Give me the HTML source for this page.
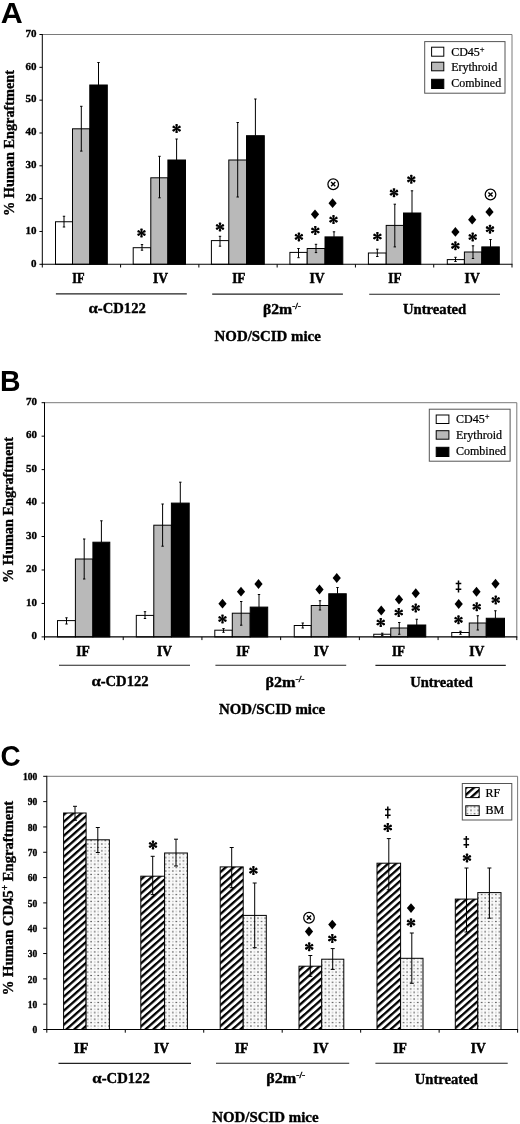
<!DOCTYPE html>
<html><head><meta charset="utf-8"><title>Figure</title>
<style>html,body{margin:0;padding:0;background:#fff;}svg{display:block;filter:blur(0.35px);}</style>
</head><body>
<svg width="520" height="1124" viewBox="0 0 520 1124">
<rect x="0" y="0" width="520" height="1124" fill="#fff"/>
<defs>
<g id="ast">
<polygon points="0.55,-0.4 1.35,-3.9 0.68,-4.5 -0.67,-4.5 -1.35,-3.9 -0.55,-0.4" fill="#000"/>
<polygon points="0.62,0.28 4.05,-0.78 4.23,-1.67 3.56,-2.83 2.7,-3.12 0.07,-0.68" fill="#000"/>
<polygon points="-0.07,-0.68 -2.7,-3.12 -3.56,-2.83 -4.23,-1.67 -4.05,-0.78 -0.62,0.28" fill="#000"/>
<polygon points="-0.55,0.4 -1.35,3.9 -0.68,4.5 0.67,4.5 1.35,3.9 0.55,0.4" fill="#000"/>
<polygon points="-0.62,-0.28 -4.05,0.78 -4.23,1.67 -3.56,2.83 -2.7,3.12 -0.07,0.68" fill="#000"/>
<polygon points="0.07,0.68 2.7,3.12 3.56,2.83 4.23,1.67 4.05,0.78 0.62,-0.28" fill="#000"/>
<circle cx="0" cy="0" r="0.9" fill="#000"/>
</g>
<polygon id="dia" points="0,-4.9 4.1,0 0,4.9 -4.1,0" fill="#000"/>
<g id="cx"><circle cx="0" cy="0" r="5.3" fill="#fff" stroke="#000" stroke-width="1.25"/><path d="M-2.1,-2.1 L2.1,2.1 M-2.1,2.1 L2.1,-2.1" stroke="#000" stroke-width="1.4" fill="none"/></g>
<g id="dd"><path d="M0,-6 L0,6" stroke="#000" stroke-width="1.5" fill="none"/><path d="M-2.8,-3 L2.8,-3 M-2.8,2.7 L2.8,2.7" stroke="#000" stroke-width="1.5" fill="none"/></g>
<pattern id="hatch" width="8" height="5.24" patternUnits="userSpaceOnUse" patternTransform="rotate(-41.5) translate(0,1.58)"><rect width="8" height="5.24" fill="#fff"/><rect y="0" width="8" height="2.3" fill="#000"/></pattern>
<pattern id="dots" width="7.1" height="6.74" patternUnits="userSpaceOnUse" patternTransform="translate(1.5,0.6)"><rect width="7.1" height="6.74" fill="#fafafa"/><circle cx="0.9" cy="1.0" r="0.78" fill="#333"/><circle cx="4.45" cy="4.37" r="0.78" fill="#333"/><circle cx="4.45" cy="1.0" r="0.7" fill="#a4a4a4"/><circle cx="0.9" cy="4.37" r="0.7" fill="#a4a4a4"/></pattern>
</defs>
<text transform="translate(0.8,22.7) scale(1.05,1)" font-family='"Liberation Sans", sans-serif' font-size="29" font-weight="bold">A</text>
<text transform="translate(-0.1,390.6) scale(0.98,1)" font-family='"Liberation Sans", sans-serif' font-size="29" font-weight="bold">B</text>
<text transform="translate(0.6,766.2) scale(0.96,1.02)" font-family='"Liberation Sans", sans-serif' font-size="29" font-weight="bold">C</text>
<polyline points="42.3,34.5 512,34.5 512,264.3" fill="none" stroke="#7a7a7a" stroke-width="1"/>
<rect x="55.5" y="221.75" width="17" height="42.55" fill="#fff" stroke="#000" stroke-width="1"/>
<rect x="72.5" y="128.8" width="17.3" height="135.5" fill="#b9b9b9" stroke="#000" stroke-width="1"/>
<rect x="89.8" y="85" width="17.5" height="179.3" fill="#000" stroke="#000" stroke-width="1"/>
<rect x="133.2" y="247.7" width="17.6" height="16.6" fill="#fff" stroke="#000" stroke-width="1"/>
<rect x="150.8" y="177.8" width="17.1" height="86.5" fill="#b9b9b9" stroke="#000" stroke-width="1"/>
<rect x="167.9" y="160" width="17.6" height="104.3" fill="#000" stroke="#000" stroke-width="1"/>
<rect x="211.4" y="240.6" width="17.4" height="23.7" fill="#fff" stroke="#000" stroke-width="1"/>
<rect x="228.8" y="160" width="17.7" height="104.3" fill="#b9b9b9" stroke="#000" stroke-width="1"/>
<rect x="246.5" y="135.7" width="17.8" height="128.6" fill="#000" stroke="#000" stroke-width="1"/>
<rect x="289.9" y="252.4" width="17.3" height="11.9" fill="#fff" stroke="#000" stroke-width="1"/>
<rect x="307.2" y="248.5" width="17.8" height="15.8" fill="#b9b9b9" stroke="#000" stroke-width="1"/>
<rect x="325" y="236.9" width="17.8" height="27.4" fill="#000" stroke="#000" stroke-width="1"/>
<rect x="368.4" y="253" width="17.8" height="11.3" fill="#fff" stroke="#000" stroke-width="1"/>
<rect x="386.2" y="225.4" width="17.3" height="38.9" fill="#b9b9b9" stroke="#000" stroke-width="1"/>
<rect x="403.5" y="213" width="17.3" height="51.3" fill="#000" stroke="#000" stroke-width="1"/>
<rect x="447.3" y="259.6" width="17.1" height="4.7" fill="#fff" stroke="#000" stroke-width="1"/>
<rect x="464.4" y="252" width="17.4" height="12.3" fill="#b9b9b9" stroke="#000" stroke-width="1"/>
<rect x="481.8" y="246.9" width="17.5" height="17.4" fill="#000" stroke="#000" stroke-width="1"/>
<line x1="64" y1="216.25" x2="64" y2="227" stroke="#000" stroke-width="1"/>
<line x1="62.8" y1="216.25" x2="65.2" y2="216.25" stroke="#000" stroke-width="1"/>
<line x1="62.8" y1="227" x2="65.2" y2="227" stroke="#000" stroke-width="1"/>
<line x1="81.3" y1="106.3" x2="81.3" y2="151.1" stroke="#000" stroke-width="1"/>
<line x1="80.1" y1="106.3" x2="82.5" y2="106.3" stroke="#000" stroke-width="1"/>
<line x1="80.1" y1="151.1" x2="82.5" y2="151.1" stroke="#000" stroke-width="1"/>
<line x1="98.5" y1="62.5" x2="98.5" y2="85" stroke="#000" stroke-width="1"/>
<line x1="97.3" y1="62.5" x2="99.7" y2="62.5" stroke="#000" stroke-width="1"/>
<line x1="142" y1="244.6" x2="142" y2="250.2" stroke="#000" stroke-width="1"/>
<line x1="140.8" y1="244.6" x2="143.2" y2="244.6" stroke="#000" stroke-width="1"/>
<line x1="140.8" y1="250.2" x2="143.2" y2="250.2" stroke="#000" stroke-width="1"/>
<line x1="159.5" y1="156.3" x2="159.5" y2="197.8" stroke="#000" stroke-width="1"/>
<line x1="158.3" y1="156.3" x2="160.7" y2="156.3" stroke="#000" stroke-width="1"/>
<line x1="158.3" y1="197.8" x2="160.7" y2="197.8" stroke="#000" stroke-width="1"/>
<line x1="176.6" y1="139" x2="176.6" y2="160" stroke="#000" stroke-width="1"/>
<line x1="175.4" y1="139" x2="177.8" y2="139" stroke="#000" stroke-width="1"/>
<line x1="220" y1="236.3" x2="220" y2="246.2" stroke="#000" stroke-width="1"/>
<line x1="218.8" y1="236.3" x2="221.2" y2="236.3" stroke="#000" stroke-width="1"/>
<line x1="218.8" y1="246.2" x2="221.2" y2="246.2" stroke="#000" stroke-width="1"/>
<line x1="237.7" y1="122.5" x2="237.7" y2="197" stroke="#000" stroke-width="1"/>
<line x1="236.5" y1="122.5" x2="238.9" y2="122.5" stroke="#000" stroke-width="1"/>
<line x1="236.5" y1="197" x2="238.9" y2="197" stroke="#000" stroke-width="1"/>
<line x1="255.4" y1="99" x2="255.4" y2="135.7" stroke="#000" stroke-width="1"/>
<line x1="254.2" y1="99" x2="256.6" y2="99" stroke="#000" stroke-width="1"/>
<line x1="298.5" y1="248.5" x2="298.5" y2="257.7" stroke="#000" stroke-width="1"/>
<line x1="297.3" y1="248.5" x2="299.7" y2="248.5" stroke="#000" stroke-width="1"/>
<line x1="297.3" y1="257.7" x2="299.7" y2="257.7" stroke="#000" stroke-width="1"/>
<line x1="316" y1="244.3" x2="316" y2="252.6" stroke="#000" stroke-width="1"/>
<line x1="314.8" y1="244.3" x2="317.2" y2="244.3" stroke="#000" stroke-width="1"/>
<line x1="314.8" y1="252.6" x2="317.2" y2="252.6" stroke="#000" stroke-width="1"/>
<line x1="334" y1="231.8" x2="334" y2="236.9" stroke="#000" stroke-width="1"/>
<line x1="332.8" y1="231.8" x2="335.2" y2="231.8" stroke="#000" stroke-width="1"/>
<line x1="377.3" y1="249.2" x2="377.3" y2="256.5" stroke="#000" stroke-width="1"/>
<line x1="376.1" y1="249.2" x2="378.5" y2="249.2" stroke="#000" stroke-width="1"/>
<line x1="376.1" y1="256.5" x2="378.5" y2="256.5" stroke="#000" stroke-width="1"/>
<line x1="394.8" y1="204.2" x2="394.8" y2="246.9" stroke="#000" stroke-width="1"/>
<line x1="393.6" y1="204.2" x2="396" y2="204.2" stroke="#000" stroke-width="1"/>
<line x1="393.6" y1="246.9" x2="396" y2="246.9" stroke="#000" stroke-width="1"/>
<line x1="412" y1="190.8" x2="412" y2="213" stroke="#000" stroke-width="1"/>
<line x1="410.8" y1="190.8" x2="413.2" y2="190.8" stroke="#000" stroke-width="1"/>
<line x1="455.5" y1="257.3" x2="455.5" y2="261.5" stroke="#000" stroke-width="1"/>
<line x1="454.3" y1="257.3" x2="456.7" y2="257.3" stroke="#000" stroke-width="1"/>
<line x1="454.3" y1="261.5" x2="456.7" y2="261.5" stroke="#000" stroke-width="1"/>
<line x1="473" y1="245.8" x2="473" y2="258.5" stroke="#000" stroke-width="1"/>
<line x1="471.8" y1="245.8" x2="474.2" y2="245.8" stroke="#000" stroke-width="1"/>
<line x1="471.8" y1="258.5" x2="474.2" y2="258.5" stroke="#000" stroke-width="1"/>
<line x1="490.5" y1="239.5" x2="490.5" y2="246.9" stroke="#000" stroke-width="1"/>
<line x1="489.3" y1="239.5" x2="491.7" y2="239.5" stroke="#000" stroke-width="1"/>
<line x1="42.3" y1="34" x2="42.3" y2="264.8" stroke="#000" stroke-width="1"/>
<line x1="41.8" y1="264.3" x2="512.5" y2="264.3" stroke="#000" stroke-width="1.1"/>
<line x1="39.4" y1="264.3" x2="42.3" y2="264.3" stroke="#000" stroke-width="1"/>
<text x="36.5" y="266.6" font-family='"Liberation Serif", serif' font-size="11" font-weight="bold" text-anchor="end"  stroke="#000" stroke-width="0.35">0</text>
<line x1="39.4" y1="231.47" x2="42.3" y2="231.47" stroke="#000" stroke-width="1"/>
<text x="36.5" y="233.77" font-family='"Liberation Serif", serif' font-size="11" font-weight="bold" text-anchor="end"  stroke="#000" stroke-width="0.35">10</text>
<line x1="39.4" y1="198.64" x2="42.3" y2="198.64" stroke="#000" stroke-width="1"/>
<text x="36.5" y="200.94" font-family='"Liberation Serif", serif' font-size="11" font-weight="bold" text-anchor="end"  stroke="#000" stroke-width="0.35">20</text>
<line x1="39.4" y1="165.81" x2="42.3" y2="165.81" stroke="#000" stroke-width="1"/>
<text x="36.5" y="168.11" font-family='"Liberation Serif", serif' font-size="11" font-weight="bold" text-anchor="end"  stroke="#000" stroke-width="0.35">30</text>
<line x1="39.4" y1="132.99" x2="42.3" y2="132.99" stroke="#000" stroke-width="1"/>
<text x="36.5" y="135.29" font-family='"Liberation Serif", serif' font-size="11" font-weight="bold" text-anchor="end"  stroke="#000" stroke-width="0.35">40</text>
<line x1="39.4" y1="100.16" x2="42.3" y2="100.16" stroke="#000" stroke-width="1"/>
<text x="36.5" y="102.46" font-family='"Liberation Serif", serif' font-size="11" font-weight="bold" text-anchor="end"  stroke="#000" stroke-width="0.35">50</text>
<line x1="39.4" y1="67.33" x2="42.3" y2="67.33" stroke="#000" stroke-width="1"/>
<text x="36.5" y="69.63" font-family='"Liberation Serif", serif' font-size="11" font-weight="bold" text-anchor="end"  stroke="#000" stroke-width="0.35">60</text>
<line x1="39.4" y1="34.5" x2="42.3" y2="34.5" stroke="#000" stroke-width="1"/>
<text x="36.5" y="36.8" font-family='"Liberation Serif", serif' font-size="11" font-weight="bold" text-anchor="end"  stroke="#000" stroke-width="0.35">70</text>
<line x1="42.3" y1="264.3" x2="42.3" y2="267.5" stroke="#000" stroke-width="1"/>
<line x1="120.58" y1="264.3" x2="120.58" y2="267.5" stroke="#000" stroke-width="1"/>
<line x1="198.87" y1="264.3" x2="198.87" y2="267.5" stroke="#000" stroke-width="1"/>
<line x1="277.15" y1="264.3" x2="277.15" y2="267.5" stroke="#000" stroke-width="1"/>
<line x1="355.43" y1="264.3" x2="355.43" y2="267.5" stroke="#000" stroke-width="1"/>
<line x1="433.72" y1="264.3" x2="433.72" y2="267.5" stroke="#000" stroke-width="1"/>
<line x1="512" y1="264.3" x2="512" y2="267.5" stroke="#000" stroke-width="1"/>
<use href="#ast" x="141.5" y="233"/>
<use href="#ast" x="176.6" y="128.6"/>
<use href="#ast" x="220" y="227"/>
<use href="#ast" x="298.9" y="236.9"/>
<use href="#ast" x="315.3" y="230.5"/>
<use href="#dia" x="315" y="214.3"/>
<use href="#ast" x="333.5" y="219.6"/>
<use href="#dia" x="332.6" y="203.2"/>
<use href="#cx" x="333.2" y="184.2"/>
<use href="#ast" x="377.4" y="236.5"/>
<use href="#ast" x="394" y="192.7"/>
<use href="#ast" x="411.3" y="179.3"/>
<use href="#ast" x="455.4" y="245.8"/>
<use href="#dia" x="455.4" y="231.9"/>
<use href="#ast" x="472.7" y="237"/>
<use href="#dia" x="472.2" y="219.7"/>
<use href="#ast" x="490" y="229.2"/>
<use href="#dia" x="489.5" y="211.9"/>
<use href="#cx" x="490.5" y="194.5"/>
<rect x="424.7" y="41.6" width="80.3" height="51.6" fill="#fff" stroke="#555" stroke-width="1"/>
<rect x="431.6" y="47.2" width="12.2" height="9" fill="#fff" stroke="#000" stroke-width="1"/>
<text x="451.2" y="56.3" font-family='"Liberation Serif", serif' font-size="12" font-weight="normal" text-anchor="start"  stroke="#000" stroke-width="0.22">CD45<tspan font-size="8.5" dy="-4">+</tspan></text>
<rect x="431.6" y="62.2" width="12.2" height="8.6" fill="#b9b9b9" stroke="#000" stroke-width="1"/>
<text x="451.2" y="70.6" font-family='"Liberation Serif", serif' font-size="12" font-weight="normal" text-anchor="start"  stroke="#000" stroke-width="0.22">Erythroid</text>
<rect x="431.6" y="79.3" width="12.2" height="9.2" fill="#000" stroke="#000" stroke-width="1"/>
<text x="451.2" y="87.2" font-family='"Liberation Serif", serif' font-size="12" font-weight="normal" text-anchor="start"  stroke="#000" stroke-width="0.22">Combined</text>
<text transform="translate(14.0,143) rotate(-90)" font-family='"Liberation Serif", serif' font-size="15.6" font-weight="bold" stroke="#000" stroke-width="0.35" text-anchor="middle" textLength="146" lengthAdjust="spacingAndGlyphs">% Human Engraftment</text>
<text x="78.45" y="283.3" font-family='"Liberation Serif", serif' font-size="13.6" font-weight="bold" text-anchor="middle" textLength="12.3" lengthAdjust="spacingAndGlyphs" stroke="#000" stroke-width="0.5">IF</text>
<text x="160.4" y="283.3" font-family='"Liberation Serif", serif' font-size="13.6" font-weight="bold" text-anchor="middle" textLength="15" lengthAdjust="spacingAndGlyphs" stroke="#000" stroke-width="0.5">IV</text>
<text x="238.8" y="283.3" font-family='"Liberation Serif", serif' font-size="13.6" font-weight="bold" text-anchor="middle" textLength="13.2" lengthAdjust="spacingAndGlyphs" stroke="#000" stroke-width="0.5">IF</text>
<text x="316.95" y="283.3" font-family='"Liberation Serif", serif' font-size="13.6" font-weight="bold" text-anchor="middle" textLength="15.1" lengthAdjust="spacingAndGlyphs" stroke="#000" stroke-width="0.5">IV</text>
<text x="394.9" y="283.3" font-family='"Liberation Serif", serif' font-size="13.6" font-weight="bold" text-anchor="middle" textLength="13.2" lengthAdjust="spacingAndGlyphs" stroke="#000" stroke-width="0.5">IF</text>
<text x="472.15" y="283.3" font-family='"Liberation Serif", serif' font-size="13.6" font-weight="bold" text-anchor="middle" textLength="15.1" lengthAdjust="spacingAndGlyphs" stroke="#000" stroke-width="0.5">IV</text>
<line x1="55.9" y1="293.9" x2="186.8" y2="293.9" stroke="#222" stroke-width="1.1"/>
<line x1="212.2" y1="294.1" x2="342.9" y2="294.1" stroke="#222" stroke-width="1.1"/>
<line x1="369.2" y1="294.2" x2="500" y2="294.2" stroke="#222" stroke-width="1.1"/>
<text x="117.15" y="313.3" font-family='"Liberation Serif", serif' font-size="13.6" font-weight="bold" text-anchor="middle" textLength="57.3" lengthAdjust="spacingAndGlyphs" stroke="#000" stroke-width="0.35"><tspan font-size="15.5">α</tspan>-CD122</text>
<text x="434.6" y="314.2" font-family='"Liberation Serif", serif' font-size="13.6" font-weight="bold" text-anchor="middle" textLength="63.2" lengthAdjust="spacingAndGlyphs" stroke="#000" stroke-width="0.35">Untreated</text>
<text x="267.7" y="341" font-family='"Liberation Serif", serif' font-size="13.6" font-weight="bold" text-anchor="middle" textLength="106.2" lengthAdjust="spacingAndGlyphs" stroke="#000" stroke-width="0.35">NOD/SCID mice</text>
<text x="262.9" y="314.2" font-family='"Liberation Serif", serif' font-size="13.6" font-weight="bold" stroke="#000" stroke-width="0.35" textLength="38" lengthAdjust="spacingAndGlyphs">β2m<tspan font-size="8" dy="-5">-/-</tspan></text>
<polyline points="44.5,402.7 516.8,402.7 516.8,636.9" fill="none" stroke="#7a7a7a" stroke-width="1"/>
<rect x="57.5" y="620.6" width="17.9" height="16.3" fill="#fff" stroke="#000" stroke-width="1"/>
<rect x="75.4" y="559" width="17.5" height="77.9" fill="#b9b9b9" stroke="#000" stroke-width="1"/>
<rect x="92.9" y="542.2" width="16.9" height="94.7" fill="#000" stroke="#000" stroke-width="1"/>
<rect x="136.3" y="615.4" width="17.5" height="21.5" fill="#fff" stroke="#000" stroke-width="1"/>
<rect x="153.8" y="525.2" width="17.6" height="111.7" fill="#b9b9b9" stroke="#000" stroke-width="1"/>
<rect x="171.4" y="503.1" width="17.8" height="133.8" fill="#000" stroke="#000" stroke-width="1"/>
<rect x="214.8" y="630.2" width="17.5" height="6.7" fill="#fff" stroke="#000" stroke-width="1"/>
<rect x="232.3" y="613.2" width="17.9" height="23.7" fill="#b9b9b9" stroke="#000" stroke-width="1"/>
<rect x="250.2" y="607.1" width="17.5" height="29.8" fill="#000" stroke="#000" stroke-width="1"/>
<rect x="294.25" y="625.5" width="17" height="11.4" fill="#fff" stroke="#000" stroke-width="1"/>
<rect x="311.25" y="605.5" width="17.5" height="31.4" fill="#b9b9b9" stroke="#000" stroke-width="1"/>
<rect x="328.75" y="593.75" width="17.5" height="43.15" fill="#000" stroke="#000" stroke-width="1"/>
<rect x="373.75" y="634.25" width="17" height="2.65" fill="#fff" stroke="#000" stroke-width="1"/>
<rect x="390.75" y="628" width="17" height="8.9" fill="#b9b9b9" stroke="#000" stroke-width="1"/>
<rect x="407.75" y="625" width="18" height="11.9" fill="#000" stroke="#000" stroke-width="1"/>
<rect x="451.75" y="632.5" width="17.5" height="4.4" fill="#fff" stroke="#000" stroke-width="1"/>
<rect x="469.25" y="623" width="17" height="13.9" fill="#b9b9b9" stroke="#000" stroke-width="1"/>
<rect x="486.25" y="618.25" width="18.25" height="18.65" fill="#000" stroke="#000" stroke-width="1"/>
<line x1="66.5" y1="617.8" x2="66.5" y2="624" stroke="#000" stroke-width="1"/>
<line x1="65.3" y1="617.8" x2="67.7" y2="617.8" stroke="#000" stroke-width="1"/>
<line x1="65.3" y1="624" x2="67.7" y2="624" stroke="#000" stroke-width="1"/>
<line x1="84.2" y1="539" x2="84.2" y2="579" stroke="#000" stroke-width="1"/>
<line x1="83" y1="539" x2="85.4" y2="539" stroke="#000" stroke-width="1"/>
<line x1="83" y1="579" x2="85.4" y2="579" stroke="#000" stroke-width="1"/>
<line x1="101.4" y1="520.8" x2="101.4" y2="542.2" stroke="#000" stroke-width="1"/>
<line x1="100.2" y1="520.8" x2="102.6" y2="520.8" stroke="#000" stroke-width="1"/>
<line x1="145" y1="611.7" x2="145" y2="618.5" stroke="#000" stroke-width="1"/>
<line x1="143.8" y1="611.7" x2="146.2" y2="611.7" stroke="#000" stroke-width="1"/>
<line x1="143.8" y1="618.5" x2="146.2" y2="618.5" stroke="#000" stroke-width="1"/>
<line x1="162.6" y1="504" x2="162.6" y2="546.2" stroke="#000" stroke-width="1"/>
<line x1="161.4" y1="504" x2="163.8" y2="504" stroke="#000" stroke-width="1"/>
<line x1="161.4" y1="546.2" x2="163.8" y2="546.2" stroke="#000" stroke-width="1"/>
<line x1="180.3" y1="482.2" x2="180.3" y2="503.1" stroke="#000" stroke-width="1"/>
<line x1="179.1" y1="482.2" x2="181.5" y2="482.2" stroke="#000" stroke-width="1"/>
<line x1="223.5" y1="628.6" x2="223.5" y2="632.3" stroke="#000" stroke-width="1"/>
<line x1="222.3" y1="628.6" x2="224.7" y2="628.6" stroke="#000" stroke-width="1"/>
<line x1="222.3" y1="632.3" x2="224.7" y2="632.3" stroke="#000" stroke-width="1"/>
<line x1="241.2" y1="601.5" x2="241.2" y2="625.2" stroke="#000" stroke-width="1"/>
<line x1="240" y1="601.5" x2="242.4" y2="601.5" stroke="#000" stroke-width="1"/>
<line x1="240" y1="625.2" x2="242.4" y2="625.2" stroke="#000" stroke-width="1"/>
<line x1="259" y1="594.5" x2="259" y2="607.1" stroke="#000" stroke-width="1"/>
<line x1="257.8" y1="594.5" x2="260.2" y2="594.5" stroke="#000" stroke-width="1"/>
<line x1="302.75" y1="623" x2="302.75" y2="628" stroke="#000" stroke-width="1"/>
<line x1="301.55" y1="623" x2="303.95" y2="623" stroke="#000" stroke-width="1"/>
<line x1="301.55" y1="628" x2="303.95" y2="628" stroke="#000" stroke-width="1"/>
<line x1="320" y1="600.75" x2="320" y2="610" stroke="#000" stroke-width="1"/>
<line x1="318.8" y1="600.75" x2="321.2" y2="600.75" stroke="#000" stroke-width="1"/>
<line x1="318.8" y1="610" x2="321.2" y2="610" stroke="#000" stroke-width="1"/>
<line x1="337.5" y1="587.5" x2="337.5" y2="593.75" stroke="#000" stroke-width="1"/>
<line x1="336.3" y1="587.5" x2="338.7" y2="587.5" stroke="#000" stroke-width="1"/>
<line x1="382.25" y1="633.2" x2="382.25" y2="635.4" stroke="#000" stroke-width="1"/>
<line x1="381.05" y1="633.2" x2="383.45" y2="633.2" stroke="#000" stroke-width="1"/>
<line x1="381.05" y1="635.4" x2="383.45" y2="635.4" stroke="#000" stroke-width="1"/>
<line x1="399.25" y1="622.5" x2="399.25" y2="634.25" stroke="#000" stroke-width="1"/>
<line x1="398.05" y1="622.5" x2="400.45" y2="622.5" stroke="#000" stroke-width="1"/>
<line x1="398.05" y1="634.25" x2="400.45" y2="634.25" stroke="#000" stroke-width="1"/>
<line x1="416.75" y1="619.25" x2="416.75" y2="625" stroke="#000" stroke-width="1"/>
<line x1="415.55" y1="619.25" x2="417.95" y2="619.25" stroke="#000" stroke-width="1"/>
<line x1="460.5" y1="631.25" x2="460.5" y2="634.25" stroke="#000" stroke-width="1"/>
<line x1="459.3" y1="631.25" x2="461.7" y2="631.25" stroke="#000" stroke-width="1"/>
<line x1="459.3" y1="634.25" x2="461.7" y2="634.25" stroke="#000" stroke-width="1"/>
<line x1="477.75" y1="615.75" x2="477.75" y2="630" stroke="#000" stroke-width="1"/>
<line x1="476.55" y1="615.75" x2="478.95" y2="615.75" stroke="#000" stroke-width="1"/>
<line x1="476.55" y1="630" x2="478.95" y2="630" stroke="#000" stroke-width="1"/>
<line x1="495.4" y1="610.75" x2="495.4" y2="618.25" stroke="#000" stroke-width="1"/>
<line x1="494.2" y1="610.75" x2="496.6" y2="610.75" stroke="#000" stroke-width="1"/>
<line x1="44.5" y1="402.2" x2="44.5" y2="637.4" stroke="#000" stroke-width="1"/>
<line x1="44" y1="636.9" x2="517.3" y2="636.9" stroke="#000" stroke-width="1.1"/>
<line x1="41.6" y1="636.9" x2="44.5" y2="636.9" stroke="#000" stroke-width="1"/>
<text x="37" y="639.2" font-family='"Liberation Serif", serif' font-size="11" font-weight="bold" text-anchor="end"  stroke="#000" stroke-width="0.35">0</text>
<line x1="41.6" y1="603.44" x2="44.5" y2="603.44" stroke="#000" stroke-width="1"/>
<text x="37" y="605.74" font-family='"Liberation Serif", serif' font-size="11" font-weight="bold" text-anchor="end"  stroke="#000" stroke-width="0.35">10</text>
<line x1="41.6" y1="569.99" x2="44.5" y2="569.99" stroke="#000" stroke-width="1"/>
<text x="37" y="572.29" font-family='"Liberation Serif", serif' font-size="11" font-weight="bold" text-anchor="end"  stroke="#000" stroke-width="0.35">20</text>
<line x1="41.6" y1="536.53" x2="44.5" y2="536.53" stroke="#000" stroke-width="1"/>
<text x="37" y="538.83" font-family='"Liberation Serif", serif' font-size="11" font-weight="bold" text-anchor="end"  stroke="#000" stroke-width="0.35">30</text>
<line x1="41.6" y1="503.07" x2="44.5" y2="503.07" stroke="#000" stroke-width="1"/>
<text x="37" y="505.37" font-family='"Liberation Serif", serif' font-size="11" font-weight="bold" text-anchor="end"  stroke="#000" stroke-width="0.35">40</text>
<line x1="41.6" y1="469.61" x2="44.5" y2="469.61" stroke="#000" stroke-width="1"/>
<text x="37" y="471.91" font-family='"Liberation Serif", serif' font-size="11" font-weight="bold" text-anchor="end"  stroke="#000" stroke-width="0.35">50</text>
<line x1="41.6" y1="436.16" x2="44.5" y2="436.16" stroke="#000" stroke-width="1"/>
<text x="37" y="438.46" font-family='"Liberation Serif", serif' font-size="11" font-weight="bold" text-anchor="end"  stroke="#000" stroke-width="0.35">60</text>
<line x1="41.6" y1="402.7" x2="44.5" y2="402.7" stroke="#000" stroke-width="1"/>
<text x="37" y="405" font-family='"Liberation Serif", serif' font-size="11" font-weight="bold" text-anchor="end"  stroke="#000" stroke-width="0.35">70</text>
<line x1="44.5" y1="636.9" x2="44.5" y2="640.1" stroke="#000" stroke-width="1"/>
<line x1="123.22" y1="636.9" x2="123.22" y2="640.1" stroke="#000" stroke-width="1"/>
<line x1="201.93" y1="636.9" x2="201.93" y2="640.1" stroke="#000" stroke-width="1"/>
<line x1="280.65" y1="636.9" x2="280.65" y2="640.1" stroke="#000" stroke-width="1"/>
<line x1="359.37" y1="636.9" x2="359.37" y2="640.1" stroke="#000" stroke-width="1"/>
<line x1="438.08" y1="636.9" x2="438.08" y2="640.1" stroke="#000" stroke-width="1"/>
<line x1="516.8" y1="636.9" x2="516.8" y2="640.1" stroke="#000" stroke-width="1"/>
<use href="#ast" x="222.5" y="619"/>
<use href="#dia" x="222.5" y="603.7"/>
<use href="#dia" x="241" y="591.7"/>
<use href="#dia" x="258.5" y="584"/>
<use href="#dia" x="319.5" y="589.5"/>
<use href="#dia" x="336.75" y="578"/>
<use href="#ast" x="380.75" y="622.5"/>
<use href="#dia" x="381.25" y="610.5"/>
<use href="#ast" x="398.75" y="612.5"/>
<use href="#dia" x="399" y="599.5"/>
<use href="#ast" x="415.75" y="608"/>
<use href="#dia" x="415.75" y="593.25"/>
<use href="#ast" x="458.5" y="619.8"/>
<use href="#dia" x="458.7" y="604"/>
<use href="#dd" x="458.5" y="586.5"/>
<use href="#ast" x="476.75" y="606.75"/>
<use href="#dia" x="476.5" y="591.75"/>
<use href="#ast" x="495.75" y="600"/>
<use href="#dia" x="495.5" y="583.75"/>
<rect x="429.3" y="409.2" width="80.8" height="52" fill="#fff" stroke="#555" stroke-width="1"/>
<rect x="436.2" y="415" width="12.7" height="8.5" fill="#fff" stroke="#000" stroke-width="1"/>
<text x="456" y="423.2" font-family='"Liberation Serif", serif' font-size="12" font-weight="normal" text-anchor="start"  stroke="#000" stroke-width="0.22">CD45<tspan font-size="8.5" dy="-4">+</tspan></text>
<rect x="436.2" y="430.7" width="12.7" height="8.5" fill="#b9b9b9" stroke="#000" stroke-width="1"/>
<text x="456" y="438.6" font-family='"Liberation Serif", serif' font-size="12" font-weight="normal" text-anchor="start"  stroke="#000" stroke-width="0.22">Erythroid</text>
<rect x="436.2" y="447.3" width="12.7" height="9.2" fill="#000" stroke="#000" stroke-width="1"/>
<text x="456" y="454.8" font-family='"Liberation Serif", serif' font-size="12" font-weight="normal" text-anchor="start"  stroke="#000" stroke-width="0.22">Combined</text>
<text transform="translate(12.7,510) rotate(-90)" font-family='"Liberation Serif", serif' font-size="14.8" font-weight="bold" stroke="#000" stroke-width="0.35" text-anchor="middle" textLength="146" lengthAdjust="spacingAndGlyphs">% Human Engraftment</text>
<text x="83.05" y="656" font-family='"Liberation Serif", serif' font-size="13.6" font-weight="bold" text-anchor="middle" textLength="13.5" lengthAdjust="spacingAndGlyphs" stroke="#000" stroke-width="0.5">IF</text>
<text x="164.45" y="656" font-family='"Liberation Serif", serif' font-size="13.6" font-weight="bold" text-anchor="middle" textLength="14.9" lengthAdjust="spacingAndGlyphs" stroke="#000" stroke-width="0.5">IV</text>
<text x="243.05" y="656" font-family='"Liberation Serif", serif' font-size="13.6" font-weight="bold" text-anchor="middle" textLength="13.5" lengthAdjust="spacingAndGlyphs" stroke="#000" stroke-width="0.5">IF</text>
<text x="321.25" y="656" font-family='"Liberation Serif", serif' font-size="13.6" font-weight="bold" text-anchor="middle" textLength="15" lengthAdjust="spacingAndGlyphs" stroke="#000" stroke-width="0.5">IV</text>
<text x="398.5" y="656" font-family='"Liberation Serif", serif' font-size="13.6" font-weight="bold" text-anchor="middle" textLength="13" lengthAdjust="spacingAndGlyphs" stroke="#000" stroke-width="0.5">IF</text>
<text x="476.85" y="656" font-family='"Liberation Serif", serif' font-size="13.6" font-weight="bold" text-anchor="middle" textLength="15.1" lengthAdjust="spacingAndGlyphs" stroke="#000" stroke-width="0.5">IV</text>
<line x1="59" y1="665.2" x2="190" y2="665.2" stroke="#222" stroke-width="1.1"/>
<line x1="215.4" y1="665.2" x2="346.2" y2="665.2" stroke="#222" stroke-width="1.1"/>
<line x1="375.4" y1="665.4" x2="505.8" y2="665.4" stroke="#222" stroke-width="1.1"/>
<text x="120" y="686" font-family='"Liberation Serif", serif' font-size="13.6" font-weight="bold" text-anchor="middle" textLength="57.2" lengthAdjust="spacingAndGlyphs" stroke="#000" stroke-width="0.35"><tspan font-size="15.5">α</tspan>-CD122</text>
<text x="441.55" y="686.8" font-family='"Liberation Serif", serif' font-size="13.6" font-weight="bold" text-anchor="middle" textLength="62.7" lengthAdjust="spacingAndGlyphs" stroke="#000" stroke-width="0.35">Untreated</text>
<text x="272.1" y="713.5" font-family='"Liberation Serif", serif' font-size="13.6" font-weight="bold" text-anchor="middle" textLength="106.2" lengthAdjust="spacingAndGlyphs" stroke="#000" stroke-width="0.35">NOD/SCID mice</text>
<text x="265.5" y="687.3" font-family='"Liberation Serif", serif' font-size="13.6" font-weight="bold" stroke="#000" stroke-width="0.35" textLength="39" lengthAdjust="spacingAndGlyphs">β2m<tspan font-size="8" dy="-5">-/-</tspan></text>
<polyline points="46.8,776.3 517.6,776.3 517.6,1029.5" fill="none" stroke="#7a7a7a" stroke-width="1"/>
<rect x="63.6" y="813" width="22.5" height="216.5" fill="url(#hatch)" stroke="#000" stroke-width="1"/>
<rect x="86.1" y="839.8" width="23.3" height="189.7" fill="url(#dots)" stroke="#000" stroke-width="1"/>
<rect x="140.8" y="876.2" width="23.8" height="153.3" fill="url(#hatch)" stroke="#000" stroke-width="1"/>
<rect x="164.6" y="853" width="22.8" height="176.5" fill="url(#dots)" stroke="#000" stroke-width="1"/>
<rect x="220.2" y="866.9" width="23" height="162.6" fill="url(#hatch)" stroke="#000" stroke-width="1"/>
<rect x="243.2" y="915.4" width="23.1" height="114.1" fill="url(#dots)" stroke="#000" stroke-width="1"/>
<rect x="299" y="966.2" width="22.7" height="63.3" fill="url(#hatch)" stroke="#000" stroke-width="1"/>
<rect x="321.7" y="959.2" width="22.1" height="70.3" fill="url(#dots)" stroke="#000" stroke-width="1"/>
<rect x="377" y="863.2" width="23.6" height="166.3" fill="url(#hatch)" stroke="#000" stroke-width="1"/>
<rect x="400.6" y="958.3" width="22.4" height="71.2" fill="url(#dots)" stroke="#000" stroke-width="1"/>
<rect x="455.3" y="899.1" width="22.5" height="130.4" fill="url(#hatch)" stroke="#000" stroke-width="1"/>
<rect x="477.8" y="892.6" width="23.2" height="136.9" fill="url(#dots)" stroke="#000" stroke-width="1"/>
<line x1="75" y1="806.3" x2="75" y2="820.2" stroke="#000" stroke-width="1"/>
<line x1="73" y1="806.3" x2="77" y2="806.3" stroke="#000" stroke-width="1"/>
<line x1="73" y1="820.2" x2="77" y2="820.2" stroke="#000" stroke-width="1"/>
<line x1="97.8" y1="827.5" x2="97.8" y2="852.5" stroke="#000" stroke-width="1"/>
<line x1="95.8" y1="827.5" x2="99.8" y2="827.5" stroke="#000" stroke-width="1"/>
<line x1="95.8" y1="852.5" x2="99.8" y2="852.5" stroke="#000" stroke-width="1"/>
<line x1="152.7" y1="856.3" x2="152.7" y2="894.6" stroke="#000" stroke-width="1"/>
<line x1="150.7" y1="856.3" x2="154.7" y2="856.3" stroke="#000" stroke-width="1"/>
<line x1="150.7" y1="894.6" x2="154.7" y2="894.6" stroke="#000" stroke-width="1"/>
<line x1="176" y1="839.2" x2="176" y2="866" stroke="#000" stroke-width="1"/>
<line x1="174" y1="839.2" x2="178" y2="839.2" stroke="#000" stroke-width="1"/>
<line x1="174" y1="866" x2="178" y2="866" stroke="#000" stroke-width="1"/>
<line x1="231.7" y1="847.5" x2="231.7" y2="887.7" stroke="#000" stroke-width="1"/>
<line x1="229.7" y1="847.5" x2="233.7" y2="847.5" stroke="#000" stroke-width="1"/>
<line x1="229.7" y1="887.7" x2="233.7" y2="887.7" stroke="#000" stroke-width="1"/>
<line x1="254.7" y1="883" x2="254.7" y2="947.7" stroke="#000" stroke-width="1"/>
<line x1="252.7" y1="883" x2="256.7" y2="883" stroke="#000" stroke-width="1"/>
<line x1="252.7" y1="947.7" x2="256.7" y2="947.7" stroke="#000" stroke-width="1"/>
<line x1="310.3" y1="955.5" x2="310.3" y2="976.3" stroke="#000" stroke-width="1"/>
<line x1="308.3" y1="955.5" x2="312.3" y2="955.5" stroke="#000" stroke-width="1"/>
<line x1="308.3" y1="976.3" x2="312.3" y2="976.3" stroke="#000" stroke-width="1"/>
<line x1="332.7" y1="948.6" x2="332.7" y2="969.4" stroke="#000" stroke-width="1"/>
<line x1="330.7" y1="948.6" x2="334.7" y2="948.6" stroke="#000" stroke-width="1"/>
<line x1="330.7" y1="969.4" x2="334.7" y2="969.4" stroke="#000" stroke-width="1"/>
<line x1="388.8" y1="838.6" x2="388.8" y2="889.8" stroke="#000" stroke-width="1"/>
<line x1="386.8" y1="838.6" x2="390.8" y2="838.6" stroke="#000" stroke-width="1"/>
<line x1="386.8" y1="889.8" x2="390.8" y2="889.8" stroke="#000" stroke-width="1"/>
<line x1="411.8" y1="933" x2="411.8" y2="983.3" stroke="#000" stroke-width="1"/>
<line x1="409.8" y1="933" x2="413.8" y2="933" stroke="#000" stroke-width="1"/>
<line x1="409.8" y1="983.3" x2="413.8" y2="983.3" stroke="#000" stroke-width="1"/>
<line x1="466.5" y1="868" x2="466.5" y2="932" stroke="#000" stroke-width="1"/>
<line x1="464.5" y1="868" x2="468.5" y2="868" stroke="#000" stroke-width="1"/>
<line x1="464.5" y1="932" x2="468.5" y2="932" stroke="#000" stroke-width="1"/>
<line x1="489.4" y1="868" x2="489.4" y2="918.2" stroke="#000" stroke-width="1"/>
<line x1="487.4" y1="868" x2="491.4" y2="868" stroke="#000" stroke-width="1"/>
<line x1="487.4" y1="918.2" x2="491.4" y2="918.2" stroke="#000" stroke-width="1"/>
<line x1="46.8" y1="775.8" x2="46.8" y2="1030" stroke="#000" stroke-width="1"/>
<line x1="46.3" y1="1029.5" x2="518.1" y2="1029.5" stroke="#000" stroke-width="1.1"/>
<line x1="43.2" y1="1029.5" x2="46.8" y2="1029.5" stroke="#000" stroke-width="1"/>
<text x="37.2" y="1033.3" font-family='"Liberation Serif", serif' font-size="9.5" font-weight="bold" text-anchor="end"  stroke="#000" stroke-width="0.35">0</text>
<line x1="43.2" y1="1004.18" x2="46.8" y2="1004.18" stroke="#000" stroke-width="1"/>
<text x="37.2" y="1007.98" font-family='"Liberation Serif", serif' font-size="9.5" font-weight="bold" text-anchor="end"  stroke="#000" stroke-width="0.35">10</text>
<line x1="43.2" y1="978.86" x2="46.8" y2="978.86" stroke="#000" stroke-width="1"/>
<text x="37.2" y="982.66" font-family='"Liberation Serif", serif' font-size="9.5" font-weight="bold" text-anchor="end"  stroke="#000" stroke-width="0.35">20</text>
<line x1="43.2" y1="953.54" x2="46.8" y2="953.54" stroke="#000" stroke-width="1"/>
<text x="37.2" y="957.34" font-family='"Liberation Serif", serif' font-size="9.5" font-weight="bold" text-anchor="end"  stroke="#000" stroke-width="0.35">30</text>
<line x1="43.2" y1="928.22" x2="46.8" y2="928.22" stroke="#000" stroke-width="1"/>
<text x="37.2" y="932.02" font-family='"Liberation Serif", serif' font-size="9.5" font-weight="bold" text-anchor="end"  stroke="#000" stroke-width="0.35">40</text>
<line x1="43.2" y1="902.9" x2="46.8" y2="902.9" stroke="#000" stroke-width="1"/>
<text x="37.2" y="906.7" font-family='"Liberation Serif", serif' font-size="9.5" font-weight="bold" text-anchor="end"  stroke="#000" stroke-width="0.35">50</text>
<line x1="43.2" y1="877.58" x2="46.8" y2="877.58" stroke="#000" stroke-width="1"/>
<text x="37.2" y="881.38" font-family='"Liberation Serif", serif' font-size="9.5" font-weight="bold" text-anchor="end"  stroke="#000" stroke-width="0.35">60</text>
<line x1="43.2" y1="852.26" x2="46.8" y2="852.26" stroke="#000" stroke-width="1"/>
<text x="37.2" y="856.06" font-family='"Liberation Serif", serif' font-size="9.5" font-weight="bold" text-anchor="end"  stroke="#000" stroke-width="0.35">70</text>
<line x1="43.2" y1="826.94" x2="46.8" y2="826.94" stroke="#000" stroke-width="1"/>
<text x="37.2" y="830.74" font-family='"Liberation Serif", serif' font-size="9.5" font-weight="bold" text-anchor="end"  stroke="#000" stroke-width="0.35">80</text>
<line x1="43.2" y1="801.62" x2="46.8" y2="801.62" stroke="#000" stroke-width="1"/>
<text x="37.2" y="805.42" font-family='"Liberation Serif", serif' font-size="9.5" font-weight="bold" text-anchor="end"  stroke="#000" stroke-width="0.35">90</text>
<line x1="43.2" y1="776.3" x2="46.8" y2="776.3" stroke="#000" stroke-width="1"/>
<text x="37.2" y="780.1" font-family='"Liberation Serif", serif' font-size="9.5" font-weight="bold" text-anchor="end"  stroke="#000" stroke-width="0.35">100</text>
<line x1="46.8" y1="1029.5" x2="46.8" y2="1032.7" stroke="#000" stroke-width="1"/>
<line x1="125.27" y1="1029.5" x2="125.27" y2="1032.7" stroke="#000" stroke-width="1"/>
<line x1="203.73" y1="1029.5" x2="203.73" y2="1032.7" stroke="#000" stroke-width="1"/>
<line x1="282.2" y1="1029.5" x2="282.2" y2="1032.7" stroke="#000" stroke-width="1"/>
<line x1="360.67" y1="1029.5" x2="360.67" y2="1032.7" stroke="#000" stroke-width="1"/>
<line x1="439.13" y1="1029.5" x2="439.13" y2="1032.7" stroke="#000" stroke-width="1"/>
<line x1="517.6" y1="1029.5" x2="517.6" y2="1032.7" stroke="#000" stroke-width="1"/>
<use href="#ast" x="153" y="845"/>
<use href="#ast" x="253.4" y="870.6"/>
<use href="#ast" x="309.2" y="946.8"/>
<use href="#dia" x="309" y="931.5"/>
<use href="#cx" x="309" y="917.7"/>
<use href="#ast" x="332.3" y="938.5"/>
<use href="#dia" x="332.3" y="924.6"/>
<use href="#ast" x="387.8" y="827.5"/>
<use href="#dd" x="387.8" y="812.6"/>
<use href="#ast" x="411" y="922.7"/>
<use href="#dia" x="411" y="908.1"/>
<use href="#ast" x="467" y="858"/>
<use href="#dd" x="466.3" y="842"/>
<rect x="462.3" y="783.5" width="49.5" height="36.5" fill="#fff" stroke="#555" stroke-width="1"/>
<rect x="465.8" y="787.6" width="13.4" height="10" fill="url(#hatch)" stroke="#000" stroke-width="1"/>
<rect x="465.8" y="805.8" width="13.4" height="9.7" fill="url(#dots)" stroke="#000" stroke-width="1"/>
<text x="485.4" y="797.1" font-family='"Liberation Serif", serif' font-size="12" font-weight="normal" text-anchor="start"  stroke="#000" stroke-width="0.22">RF</text>
<text x="485.4" y="814.2" font-family='"Liberation Serif", serif' font-size="12" font-weight="normal" text-anchor="start"  stroke="#000" stroke-width="0.22">BM</text>
<text transform="translate(12.9,898) rotate(-90)" font-family='"Liberation Serif", serif' font-size="14.8" font-weight="bold" stroke="#000" stroke-width="0.35" text-anchor="middle" textLength="194.5" lengthAdjust="spacingAndGlyphs">% Human CD45<tspan font-size="9.5" dy="-4.5">+</tspan><tspan dy="4.5"> Engraftment</tspan></text>
<text x="81.05" y="1052.9" font-family='"Liberation Serif", serif' font-size="13.6" font-weight="bold" text-anchor="middle" textLength="14.5" lengthAdjust="spacingAndGlyphs" stroke="#000" stroke-width="0.5">IF</text>
<text x="161.5" y="1052.9" font-family='"Liberation Serif", serif' font-size="13.6" font-weight="bold" text-anchor="middle" textLength="15" lengthAdjust="spacingAndGlyphs" stroke="#000" stroke-width="0.5">IV</text>
<text x="241.55" y="1052.9" font-family='"Liberation Serif", serif' font-size="13.6" font-weight="bold" text-anchor="middle" textLength="13.5" lengthAdjust="spacingAndGlyphs" stroke="#000" stroke-width="0.5">IF</text>
<text x="320.9" y="1052.9" font-family='"Liberation Serif", serif' font-size="13.6" font-weight="bold" text-anchor="middle" textLength="15.4" lengthAdjust="spacingAndGlyphs" stroke="#000" stroke-width="0.5">IV</text>
<text x="400" y="1052.9" font-family='"Liberation Serif", serif' font-size="13.6" font-weight="bold" text-anchor="middle" textLength="13.6" lengthAdjust="spacingAndGlyphs" stroke="#000" stroke-width="0.5">IF</text>
<text x="478.3" y="1052.9" font-family='"Liberation Serif", serif' font-size="13.6" font-weight="bold" text-anchor="middle" textLength="15" lengthAdjust="spacingAndGlyphs" stroke="#000" stroke-width="0.5">IV</text>
<line x1="58.5" y1="1063.4" x2="191" y2="1063.4" stroke="#222" stroke-width="1.1"/>
<line x1="216" y1="1063.3" x2="349.2" y2="1063.3" stroke="#222" stroke-width="1.1"/>
<line x1="375.4" y1="1063.3" x2="507.7" y2="1063.3" stroke="#222" stroke-width="1.1"/>
<text x="121.05" y="1083.2" font-family='"Liberation Serif", serif' font-size="13.6" font-weight="bold" text-anchor="middle" textLength="57.5" lengthAdjust="spacingAndGlyphs" stroke="#000" stroke-width="0.35"><tspan font-size="15.5">α</tspan>-CD122</text>
<text x="446.3" y="1084.2" font-family='"Liberation Serif", serif' font-size="13.6" font-weight="bold" text-anchor="middle" textLength="63" lengthAdjust="spacingAndGlyphs" stroke="#000" stroke-width="0.35">Untreated</text>
<text x="265.4" y="1121.8" font-family='"Liberation Serif", serif' font-size="13.6" font-weight="bold" text-anchor="middle" textLength="106.2" lengthAdjust="spacingAndGlyphs" stroke="#000" stroke-width="0.35">NOD/SCID mice</text>
<text x="266.2" y="1083.4" font-family='"Liberation Serif", serif' font-size="13.6" font-weight="bold" stroke="#000" stroke-width="0.35" textLength="39" lengthAdjust="spacingAndGlyphs">β2m<tspan font-size="8" dy="-5">-/-</tspan></text>
</svg>
</body></html>
